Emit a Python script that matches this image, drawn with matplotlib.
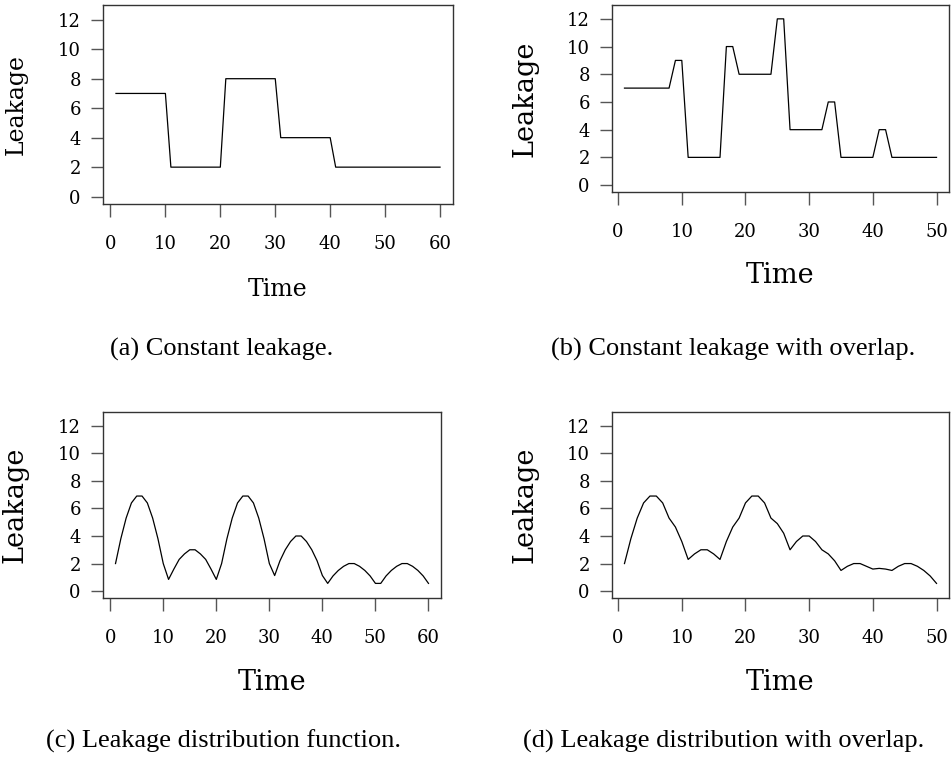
import matplotlib
matplotlib.use("Agg")
import matplotlib.pyplot as plt

# --- DATA ---
time_a = list(range(1, 61))
leak_a = [7] * 10 + [2] * 10 + [8] * 10 + [4] * 10 + [2] * 20

time_b = list(range(1, 51))
leak_b = ([7] * 8 + [9] * 2 + [2] * 6 + [10] * 2 + [8] * 6 + [12] * 2
          + [4] * 6 + [6] * 2 + [2] * 6 + [4] * 2 + [2] * 8)

time_c = list(range(1, 61))
leak_c = [2.0, 3.8, 5.3, 6.4, 6.9, 6.9, 6.4, 5.3, 3.8, 2.0,
          0.85, 1.6, 2.3, 2.7, 3.0, 3.0, 2.7, 2.3, 1.6, 0.85,
          2.0, 3.8, 5.3, 6.4, 6.9, 6.9, 6.4, 5.3, 3.8, 2.0,
          1.13, 2.2, 3.0, 3.6, 4.0, 4.0, 3.6, 3.0, 2.2, 1.13,
          0.56, 1.1, 1.5, 1.8, 2.0, 2.0, 1.8, 1.5, 1.1, 0.56,
          0.56, 1.1, 1.5, 1.8, 2.0, 2.0, 1.8, 1.5, 1.1, 0.56]

time_d = list(range(1, 51))
leak_d = [2.0, 3.8, 5.3, 6.4, 6.9, 6.9, 6.4, 5.3, 4.65, 3.6,
          2.3, 2.7, 3.0, 3.0, 2.7, 2.3, 3.6, 4.65, 5.3, 6.4,
          6.9, 6.9, 6.4, 5.3, 4.9, 4.2, 3.0, 3.6, 4.0, 4.0,
          3.6, 3.0, 2.7, 2.2, 1.5, 1.8, 2.0, 2.0, 1.8, 1.6,
          1.65, 1.6, 1.5, 1.8, 2.0, 2.0, 1.8, 1.5, 1.1, 0.56]

y_ticks = [0, 2, 4, 6, 8, 10, 12]
x_ticks_60 = [0, 10, 20, 30, 40, 50, 60]
x_ticks_50 = [0, 10, 20, 30, 40, 50]

captions = ["(a) Constant leakage.",
            "(b) Constant leakage with overlap.",
            "(c) Leakage distribution function.",
            "(d) Leakage distribution with overlap."]

W, H = 953, 772
SERIF = "DejaVu Serif"

fig = plt.figure(figsize=(W / 100, H / 100), dpi=100)


def px_axes(left, top, right, bottom):
    return fig.add_axes([left / W, 1 - bottom / H, (right - left) / W, (bottom - top) / H])


def r_style(ax, x, y, xticks):
    ax.plot(x, y, color="black", lw=0.9)
    n = x[-1] - x[0]
    ax.set_xlim(x[0] - 0.04 * n, x[-1] + 0.04 * n)
    ax.set_ylim(-0.5, 13)
    ax.set_xticks(xticks)
    ax.set_yticks(y_ticks)
    for s in ax.spines.values():
        s.set_linewidth(1.0)
        s.set_color("#333333")
    ax.tick_params(length=9, width=1.0, color="#555555", labelsize=13)
    ax.tick_params(axis="y", pad=7)
    ax.tick_params(axis="x", pad=13)
    for t in ax.get_xticklabels() + ax.get_yticklabels():
        t.set_fontfamily(SERIF)


panels = [
    (px_axes(103, 5, 453, 204), time_a, leak_a, x_ticks_60, 17, 16, 289),
    (px_axes(612, 5, 949, 192), time_b, leak_b, x_ticks_50, 19.5, 525, 276),
    (px_axes(103, 412, 441, 598), time_c, leak_c, x_ticks_60, 19.5, 15, 683),
    (px_axes(612, 412, 949, 598), time_d, leak_d, x_ticks_50, 19.5, 525, 683),
]

for ax, x, y, xt, fs, ylab_x, xlab_y in panels:
    r_style(ax, x, y, xt)
    bb = ax.get_position()
    # axis titles
    fig.text(ylab_x / W, (bb.y0 + bb.y1) / 2, "Leakage", rotation=90,
             ha="center", va="center", fontsize=fs, family=SERIF)
    fig.text((bb.x0 + bb.x1) / 2, 1 - xlab_y / H, "Time",
             ha="center", va="center", fontsize=fs, family=SERIF)

cap_pos = [(222, 349), (733, 349), (224, 741), (724, 741)]
for (cx, cy), cap in zip(cap_pos, captions):
    fig.text(cx / W, 1 - cy / H, cap, ha="center", va="center",
             fontsize=19, family="Liberation Serif")

fig.savefig("out.png", dpi=100)
